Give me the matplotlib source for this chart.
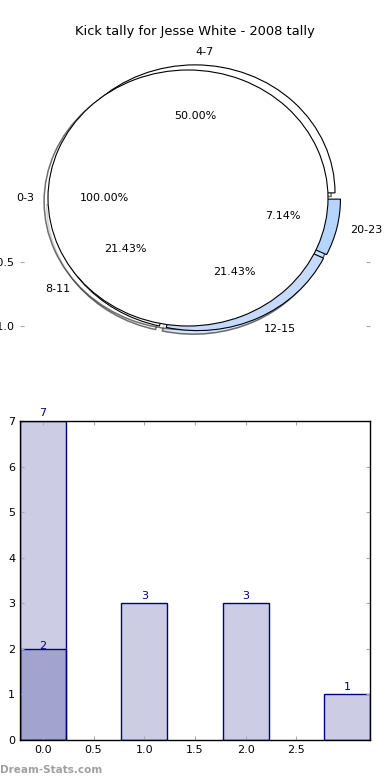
import numpy as np
import matplotlib
matplotlib.use('Agg')
import matplotlib.pyplot as plt

# data
title = 'Kick tally for Jesse White - 2008 tally'
ring_labels = ['4-7', '8-11', '12-15', '20-23']
ring_values = [7, 3, 3, 1]
ring_colors = ['white', 'white', '#c6dbfc', '#b5d5fd']
first_label = ['0-3']
first_value = [2]
bar_pos = [0, 1, 2, 3]
bar_values = [7, 3, 3, 1]
bar2_pos = [0]
bar2_values = [2]
xtick_vals = [0.0, 0.5, 1.0, 1.5, 2.0, 2.5]

plt.rcParams['font.family'] = 'DejaVu Sans'
plt.rcParams['font.size'] = 8

fig = plt.figure(figsize=(3.9, 7.8), dpi=100)
fig.patch.set_facecolor('white')

# pie part (two pies on top of each other, the single 0-3 wedge covers the middle)
# old style shadow: same fill as the wedge, greyish outline
shadow = dict(ox=-0.02, oy=-0.02, shade=0.0, edgecolor='#333333',
              alpha=0.7, linewidth=1.1)
wp = dict(linewidth=0.8, edgecolor='black')
ax1 = fig.add_axes([20/390, 422/780, 350/390, 320/780])
w, texts, autotexts = ax1.pie(ring_values, labels=ring_labels, colors=ring_colors,
                              explode=[0.04]*4, autopct='%.2f%%', shadow=shadow,
                              wedgeprops=wp, textprops=dict(fontsize=8))
texts[0].set_ha('left')   # label right on top starts at the centre
ax1.pie(first_value, labels=first_label, colors=['white'],
        explode=[0.05], autopct='%.2f%%', shadow=shadow,
        wedgeprops=wp, textprops=dict(fontsize=8))
ax1.set_aspect('auto')
ax1.set_xlim(-1.25, 1.25)
ax1.set_ylim(-1.25, 1.25)
ax1.set_xticks([])
ax1.set_yticks([-1.0, -0.5])
ax1.tick_params(axis='y', direction='in', length=3, color='#aaaaaa',
                left=True, right=True, labelsize=8)
ax1.set_title(title, fontsize=9.4, pad=2.5)

# bar part
navy = '#000080'
ax2 = fig.add_axes([20/390, 40/780, 350/390, 319/780])
ax2.bar(bar_pos, bar_values, width=0.45, color=navy, alpha=0.2)
ax2.bar(bar_pos, bar_values, width=0.45, fill=False, edgecolor=navy, linewidth=1)
ax2.bar(bar2_pos, bar2_values, width=0.45, color=navy, alpha=0.2)
ax2.bar(bar2_pos, bar2_values, width=0.45, fill=False, edgecolor=navy, linewidth=1)
for x, v in zip(bar_pos, bar_values):
    ax2.text(x, v + 0.06, str(v), ha='center', va='bottom', color=navy, fontsize=8)
for x, v in zip(bar2_pos, bar2_values):
    ax2.text(x, v + 0.06, str(v), ha='center', va='center', color=navy, fontsize=8)
ax2.set_xlim(-0.225, 3.225)
ax2.set_ylim(0, 7)
ax2.set_xticks(xtick_vals)
ax2.set_yticks(range(8))
ax2.tick_params(direction='in', length=3, color='#aaaaaa', top=True, right=True,
                labelsize=8)
for s in ax2.spines.values():
    s.set_linewidth(1)

fig.text(0.0, 10/780, 'Dream-Stats.com', color='#a0a0a0', fontsize=7.5,
         fontweight='bold', ha='left', va='center')

fig.savefig('out.png', dpi=100)
